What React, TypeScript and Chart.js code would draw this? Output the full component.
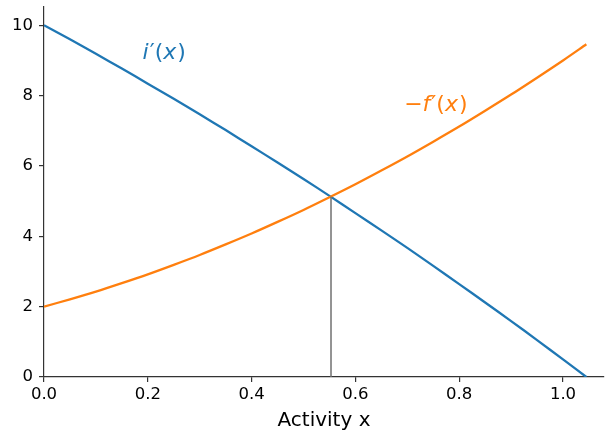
import React, { useEffect, useRef } from "react";
import { Chart, registerables } from "chart.js";

Chart.register(...registerables);

const xs = [0, 0.05, 0.1, 0.15, 0.2, 0.25, 0.3, 0.35, 0.4, 0.45, 0.5, 0.55, 0.6, 0.65, 0.7, 0.75, 0.8, 0.85, 0.9, 0.95, 1.0, 1.045];
// i'(x) — blue curve
const iPrime = [10, 9.6, 9.19, 8.77, 8.34, 7.91, 7.47, 7.02, 6.56, 6.1, 5.63, 5.15, 4.66, 4.17, 3.67, 3.16, 2.64, 2.12, 1.59, 1.05, 0.5, 0.0];
// -f'(x) — orange curve
const negFPrime = [2, 2.21, 2.43, 2.67, 2.92, 3.19, 3.47, 3.77, 4.08, 4.41, 4.75, 5.11, 5.48, 5.87, 6.27, 6.69, 7.12, 7.57, 8.03, 8.51, 9.0, 9.46];
// intersection marker (vertical line)
const crossX = 0.553;
const crossY = 5.13;

const xRange = [0, 1.079];
const yRange = [0, 10.52];
const xStep = 0.2;
const yStep = 2;

const labelI = { x: 0.19, y: 9.05, color: "#1f77b4", parts: [["i", true], ["\u2032", false], ["(", false], ["x", true], [")", false]] };
const labelF = { x: 0.694, y: 7.55, color: "#ff7f0e", parts: [["\u2212", false], ["f", true], ["\u2032", false], ["(", false], ["x", true], [")", false]] };

const FONT = "'DejaVu Sans', sans-serif";

const mathLabels = {
  id: "mathLabels",
  afterDatasetsDraw(chart: any) {
    const { ctx, scales } = chart;
    const fs = 22;
    [labelI, labelF].forEach((lab: any) => {
      let px = scales.x.getPixelForValue(lab.x);
      const py = scales.y.getPixelForValue(lab.y);
      ctx.save();
      ctx.fillStyle = lab.color;
      ctx.textBaseline = "alphabetic";
      ctx.textAlign = "left";
      lab.parts.forEach(([t, it]: [string, boolean]) => {
        ctx.font = `${it ? "italic " : ""}${fs}px ${FONT}`;
        ctx.fillText(t, px, py);
        px += ctx.measureText(t).width + (it ? 1 : 0);
      });
      ctx.restore();
    });
  },
};

export default function App() {
  const ref = useRef<HTMLCanvasElement>(null);
  useEffect(() => {
    const blue = xs.map((x, i) => ({ x, y: iPrime[i] }));
    const orange = xs.map((x, i) => ({ x, y: negFPrime[i] }));
    const vline = [
      { x: crossX, y: 0 },
      { x: crossX, y: crossY },
    ];
    const axisColor = "#333333";
    const chart = new Chart(ref.current!, {
      type: "line",
      data: {
        datasets: [
          { data: vline, borderColor: "#707070", borderWidth: 1.5, pointRadius: 0, fill: false },
          { data: orange, borderColor: "#ff7f0e", borderWidth: 2.3, pointRadius: 0, fill: false, tension: 0.3 },
          { data: blue, borderColor: "#1f77b4", borderWidth: 2.3, pointRadius: 0, fill: false, tension: 0.3 },
        ],
      },
      options: {
        animation: false,
        responsive: false,
        events: [],
        layout: { padding: { top: 7, right: 1, left: 0, bottom: 0 } },
        plugins: { legend: { display: false }, tooltip: { enabled: false } },
        scales: {
          x: {
            type: "linear",
            min: xRange[0],
            max: xRange[1],
            afterFit: (s: any) => {
              s.height = 61;
              s.paddingLeft = 0;
              s.paddingRight = 0;
            },
            border: { display: true, color: axisColor, width: 1.2 },
            grid: { drawOnChartArea: false, drawTicks: true, tickLength: 5, color: axisColor, lineWidth: 1.2 },
            ticks: {
              stepSize: xStep,
              includeBounds: false,
              maxRotation: 0,
              color: "#000",
              padding: 3,
              font: { family: FONT, size: 16.5 },
              callback: (v: any) => Number(v).toFixed(1),
            },
            title: {
              display: true,
              text: "Activity x",
              color: "#000",
              font: { family: FONT, size: 20 },
              padding: { top: 0, bottom: 5 },
            },
          },
          y: {
            type: "linear",
            min: yRange[0],
            max: yRange[1],
            afterFit: (s: any) => {
              s.width = 44;
              s.paddingTop = 0;
              s.paddingBottom = 0;
            },
            border: { display: true, color: axisColor, width: 1.2 },
            grid: { drawOnChartArea: false, drawTicks: true, tickLength: 5, color: axisColor, lineWidth: 1.2 },
            ticks: {
              stepSize: yStep,
              includeBounds: false,
              color: "#000",
              padding: 6,
              font: { family: FONT, size: 16.5 },
              callback: (v: any) => String(v),
            },
          },
        },
      },
      plugins: [mathLabels],
    } as any);
    return () => chart.destroy();
  }, []);
  return (
    <div style={{ position: "absolute", left: 0, top: 0, width: 605, height: 438, background: "#fff" }}>
      <canvas ref={ref} width={605} height={438} style={{ display: "block" }} />
    </div>
  );
}
